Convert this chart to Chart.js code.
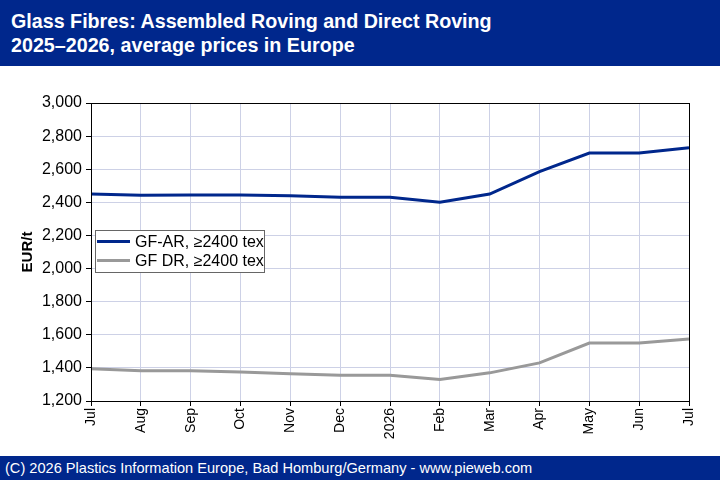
<!DOCTYPE html>
<html><head><meta charset="utf-8">
<script src="https://cdn.jsdelivr.net/npm/chart.js@4/dist/chart.umd.min.js"></script>
<style>
html,body{margin:0;padding:0;background:#fff;width:720px;height:480px;overflow:hidden;font-family:"Liberation Sans",Arial,sans-serif;}
#hdr{position:absolute;left:0;top:0;width:720px;height:66px;background:#00278c;color:#fff;font-weight:bold;font-size:19.7px;line-height:23.5px;box-sizing:border-box;padding:10px 0 0 11px;}
#wrap{position:absolute;left:0;top:66px;width:720px;height:390px;}
#ftr{position:absolute;left:0;top:456px;width:720px;height:24px;background:#00278c;color:#fff;font-size:14.6px;line-height:24px;padding-left:5px;box-sizing:border-box;}
</style></head><body>
<div id="hdr">Glass Fibres: Assembled Roving and Direct Roving<br>2025–2026, average prices in Europe</div>
<div id="wrap"><canvas id="c" width="720" height="390"></canvas></div>
<div id="ftr">(C) 2026 Plastics Information Europe, Bad Homburg/Germany - www.pieweb.com</div>
<script>
const categories = ["Jul","Aug","Sep","Oct","Nov","Dec","2026","Feb","Mar","Apr","May","Jun","Jul"];
const seriesNames = ["GF-AR, \u22652400 tex", "GF DR, \u22652400 tex"];
const gfAR = [2450,2443,2445,2445,2440,2430,2430,2400,2450,2585,2698,2698,2730];
const gfDR = [1395,1383,1383,1375,1365,1355,1355,1330,1370,1430,1550,1550,1575];
const yTicks = [1200,1400,1600,1800,2000,2200,2400,2600,2800,3000];
const FONT = '"Liberation Sans", Arial, sans-serif';

const legendPlugin = {
  id:'inLegend',
  afterDatasetsDraw(chart){
    const ctx = chart.ctx, a = chart.chartArea;
    ctx.save();
    ctx.strokeStyle='#000'; ctx.lineWidth=1;
    ctx.strokeRect(Math.round(a.left)+0.5, Math.round(a.top)+0.5, Math.round(a.right-a.left), Math.round(a.bottom-a.top));
    const x = Math.round(a.left)+4, y = Math.round(a.top)+127, w = 169, h = 42;
    ctx.fillStyle='#fff'; ctx.fillRect(x,y,w,h);
    ctx.strokeStyle='#666'; ctx.lineWidth=1; ctx.strokeRect(x+0.5,y+0.5,w,h);
    ctx.font='16px '+FONT;
    ctx.textBaseline='middle';
    chart.data.datasets.forEach((ds,i)=>{
      const ly = y+11.5+i*19;
      ctx.strokeStyle=ds.borderColor; ctx.lineWidth=3;
      ctx.beginPath(); ctx.moveTo(x+2,ly); ctx.lineTo(x+35,ly); ctx.stroke();
      ctx.fillStyle='#000'; ctx.fillText(ds.label, x+40, ly+1);
    });
    ctx.restore();
  }
};

new Chart(document.getElementById('c'),{
  type:'line',
  data:{labels:categories,datasets:[
    {label:seriesNames[0],data:gfAR,borderColor:'#00278c',borderWidth:3,pointRadius:0,tension:0,fill:false},
    {label:seriesNames[1],data:gfDR,borderColor:'#999999',borderWidth:3,pointRadius:0,tension:0,fill:false}
  ]},
  options:{
    responsive:false,animation:false,devicePixelRatio:1,
    layout:{padding:{left:0,right:31,top:37,bottom:0}},
    plugins:{legend:{display:false},tooltip:{enabled:false}},
    scales:{
      x:{
        offset:false,
        grid:{color:'#cdd1e6',tickColor:'#000',tickLength:5,drawTicks:true},
        border:{color:'#000'},
        ticks:{color:'#000',font:{size:14,family:FONT},minRotation:90,maxRotation:90,autoSkip:false,padding:2},
        afterFit(s){s.height=55;}
      },
      y:{
        min:1200,max:3000,
        afterBuildTicks(s){s.ticks=yTicks.map(v=>({value:v}));},
        grid:{color:'#cdd1e6',tickColor:'#000',tickLength:5},
        border:{color:'#000'},
        ticks:{color:'#000',font:{size:16,family:FONT},padding:4,
          callback:v=>v.toLocaleString('en-US')},
        title:{display:true,text:'EUR/t',color:'#000',font:{size:15,weight:'bold',family:FONT},padding:{top:19,bottom:0}},
        afterFit(s){s.width=91;}
      }
    }
  },
  plugins:[legendPlugin]
});
</script></body></html>
